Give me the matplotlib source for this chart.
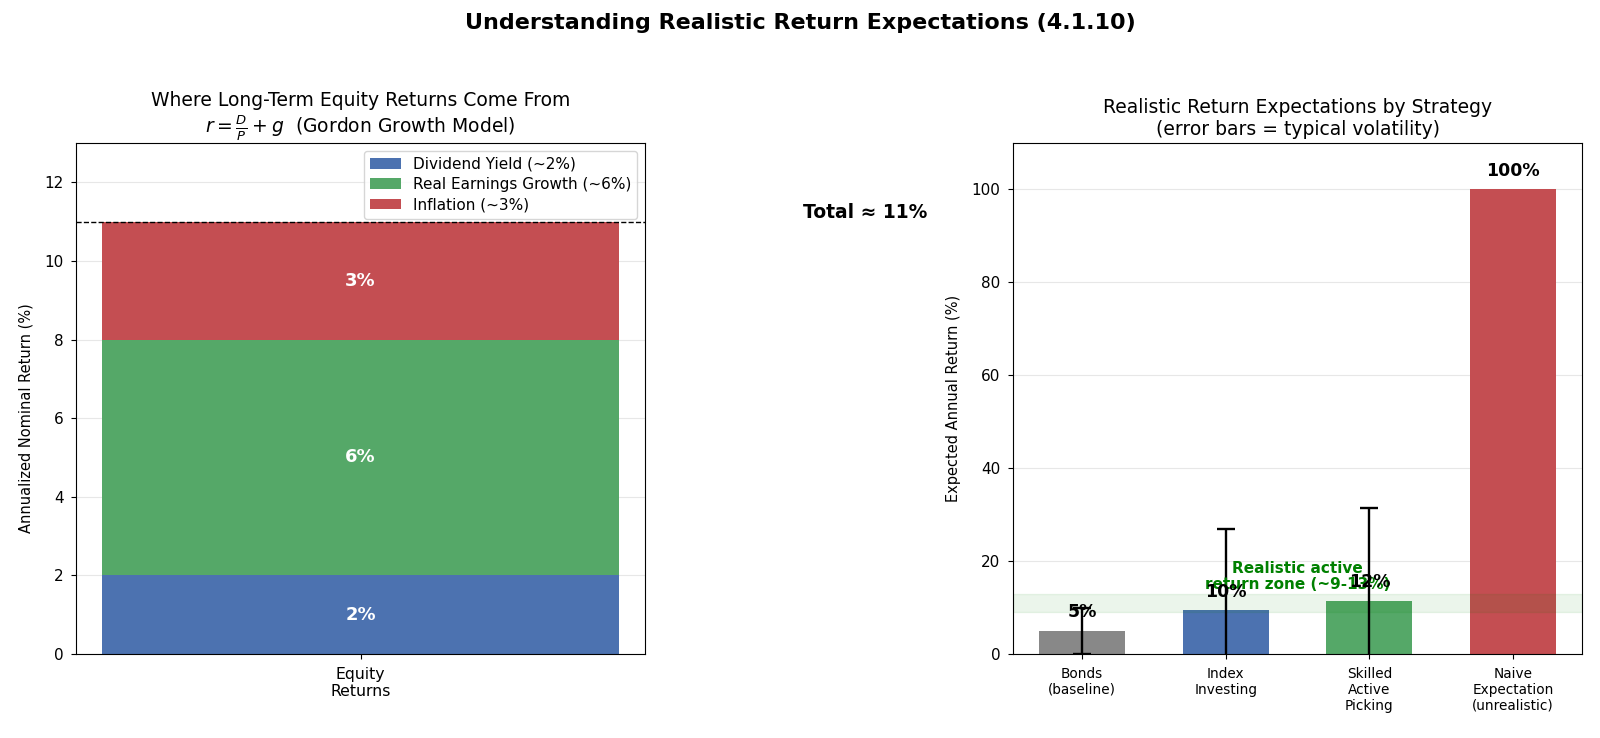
import matplotlib
matplotlib.use("Agg")
import matplotlib.pyplot as plt
import numpy as np

# left panel: components of long-term equity return
components = ["Dividend Yield (~2%)", "Real Earnings Growth (~6%)", "Inflation (~3%)"]
component_values = [2, 6, 3]
component_colors = ["#4C72B0", "#55A868", "#C44E52"]
total_return = 11

# right panel: strategies
strategies = ["Bonds\n(baseline)", "Index\nInvesting", "Skilled\nActive\nPicking", "Naive\nExpectation\n(unrealistic)"]
expected_returns = [5, 9.5, 11.5, 100]
volatility = [5, 17.5, 20]
strategy_colors = ["#888888", "#4C72B0", "#55A868", "#C44E52"]
zone_low, zone_high = 9, 13

plt.rcParams["xtick.labelsize"] = 11
plt.rcParams["ytick.labelsize"] = 11
plt.rcParams["xtick.major.pad"] = 5.5
plt.rcParams["ytick.major.pad"] = 5.5

fig = plt.figure(figsize=(16, 7.38), dpi=100)
fig.suptitle("Understanding Realistic Return Expectations (4.1.10)", fontsize=16, fontweight="bold", y=0.982)

ax1 = fig.add_axes([76 / 1600, 1 - 654 / 738, 569 / 1600, 511 / 738])
ax2 = fig.add_axes([1013 / 1600, 1 - 654 / 738, 569 / 1600, 511 / 738])

# stacked bar
bottom = 0
for name, val, col in zip(components, component_values, component_colors):
    ax1.bar([0], [val], bottom=bottom, color=col, width=0.8, label=name)
    ax1.text(0, bottom + val / 2, f"{val}%", ha="center", va="center",
             color="white", fontsize=13, fontweight="bold")
    bottom += val
ax1.axhline(total_return, color="black", linestyle="--", linewidth=1)
ax1.text(0.78, total_return, f"Total \u2248 {total_return}%", ha="center", va="bottom",
         fontsize=13.5, fontweight="bold")
ax1.set_ylim(0, 13)
ax1.set_xticks([0])
ax1.set_xticklabels(["Equity\nReturns"], fontsize=11.3)
ax1.set_ylabel("Annualized Nominal Return (%)", fontsize=10.5, labelpad=7.5)
ax1.yaxis.label.set_y(0.462)
ax1.set_title("Where Long-Term Equity Returns Come From\n"
              r"$r = \frac{D}{P} + g$  (Gordon Growth Model)", fontsize=13.5)
ax1.legend(loc="upper right", fontsize=11, labelspacing=0.35)
ax1.grid(axis="y", alpha=0.3)
ax1.set_axisbelow(True)

# strategies
x = np.arange(len(strategies))
ax2.bar(x, expected_returns, color=strategy_colors, width=0.6)
ax2.errorbar(x[:3], expected_returns[:3], yerr=volatility, fmt="none",
             ecolor="black", capsize=6.5, elinewidth=1.7, capthick=1.7)
ax2.axhspan(zone_low, zone_high, color="green", alpha=0.08)
ax2.text(1.5, zone_high + 0.4, "Realistic active\nreturn zone (~9-13%)", ha="center", va="bottom",
         color="green", fontsize=11, fontweight="bold", linespacing=1.1)
for xi, v in zip(x, expected_returns):
    ax2.text(xi, v + 2, f"{v:.0f}%", ha="center", va="bottom", fontsize=12.5, fontweight="bold")
ax2.set_ylim(0, 110)
ax2.set_xticks(x)
ax2.set_xticklabels(strategies, fontsize=9.8)
ax2.set_ylabel("Expected Annual Return (%)", fontsize=10.5, labelpad=7.5)
ax2.set_title("Realistic Return Expectations by Strategy\n(error bars = typical volatility)", fontsize=13.5)
ax2.grid(axis="y", alpha=0.3)
ax2.set_axisbelow(True)

fig.savefig("out.png", dpi=100)
